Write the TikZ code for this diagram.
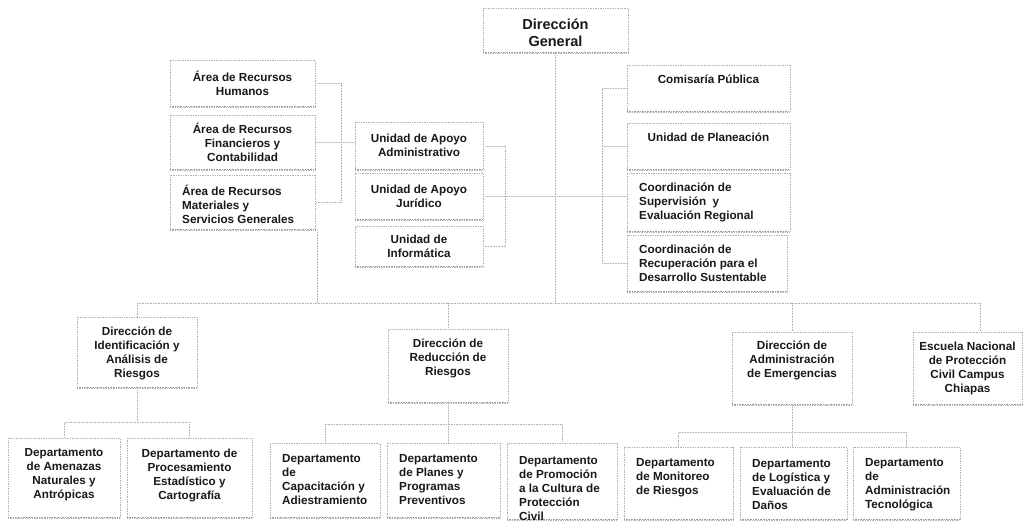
\documentclass[tikz,border=0pt]{standalone}
\usepackage{fontspec}
\setmainfont{Liberation Sans}
\tikzset{
  bx/.style={draw=gray!60, densely dotted, line width=0.7pt, fill=white, inner sep=0pt, rectangle},
  shadowline/.style={draw=gray!80, densely dotted, line width=1.6pt},
  txt/.style={inner sep=0pt, font=\bfseries\fontsize{11.7}{14}\selectfont, text=black!90},
  conn/.style={draw=gray!60, densely dotted, line width=0.6pt}
}
% #1 vertical text offset (down), #2 name, #3 x1, #4 y1, #5 x2, #6 y2, #7 c or l, #8 text
\newcommand\orgbox[8][0]{%
  \pgfmathsetmacro\obw{#5-#3}%
  \pgfmathsetmacro\obh{#6-#4}%
  \node[bx, minimum width=\obw pt, minimum height=\obh pt] (#2) at ({(#3+#5)/2},{(#4+#6)/2}) {};
  \draw[shadowline] ([yshift=0.8pt]#2.south west) -- ([yshift=0.8pt]#2.south east);
  \if#7l
    \node[txt, align=left, anchor=west] (#2-t) at ({#3+12},{(#4+#6)/2+#1}) {#8};
  \else
    \node[txt, align=center] (#2-t) at ({(#3+#5)/2},{(#4+#6)/2+#1}) {#8};
  \fi
}
\begin{document}
\begin{tikzpicture}[x=1pt,y=-1pt]
\useasboundingbox[fill=white] (0,0) rectangle (1029,522);

% top
\node[bx, minimum width=145pt, minimum height=45pt] (dg) at (555.5,30.5) {};
\draw[shadowline] ([yshift=0.8pt]dg.south west) -- ([yshift=0.8pt]dg.south east);
\node[txt, font=\bfseries\fontsize{14.5}{16.5}\selectfont, align=center] (dg-t) at (555.5,33) {Dirección\\General};

% left column
\orgbox{a1}{170}{60}{315}{107}{c}{Área de Recursos\\Humanos}
\orgbox{a2}{170}{115}{315}{170}{c}{Área de Recursos\\Financieros y\\Contabilidad}
\orgbox[2]{a3}{170}{175}{315}{230}{l}{Área de Recursos\\Materiales y\\Servicios Generales}

% unidades
\orgbox[-1]{u1}{355}{122}{483}{170}{c}{Unidad de Apoyo\\Administrativo}
\orgbox{u2}{355}{173}{483}{220}{c}{Unidad de Apoyo\\Jurídico}
\orgbox{u3}{355}{226}{483}{267}{c}{Unidad de\\Informática}

% right column
\orgbox[-9]{c1}{627}{65}{790}{112}{c}{Comisaría Pública}
\orgbox[-9]{c2}{627}{123}{790}{170}{c}{Unidad de Planeación}
\orgbox{c3}{627}{173}{790}{232}{l}{Coordinación de\\Supervisión\ \ y\\Evaluación Regional}
\orgbox{c4}{627}{235}{787}{292}{l}{Coordinación de\\Recuperación para el\\Desarrollo Sustentable}

% direcciones
\orgbox[1]{d1}{77}{317}{197}{388}{c}{Dirección de\\Identificación y\\Análisis de\\Riesgos}
\orgbox[-8]{d2}{388}{329}{508}{403}{c}{Dirección de\\Reducción de\\Riesgos}
\orgbox[-8]{d3}{732}{332}{852}{405}{c}{Dirección de\\Administración\\de Emergencias}
\orgbox{d4}{913}{332}{1022}{405}{c}{Escuela Nacional\\de Protección\\Civil Campus\\Chiapas}

% departamentos
\orgbox[-3]{e1}{8}{438}{120}{518}{c}{Departamento\\de Amenazas\\Naturales y\\Antrópicas}
\orgbox[-3]{e2}{127}{438}{252}{518}{c}{Departamento de\\Procesamiento\\Estadístico y\\Cartografía}
\orgbox[-1]{e3}{270}{443}{380}{518}{l}{Departamento\\de\\Capacitación y\\Adiestramiento}
\orgbox[-1]{e4}{387}{443}{500}{518}{l}{Departamento\\de Planes y\\Programas\\Preventivos}
\orgbox[7]{e5}{507}{443}{617}{520}{l}{Departamento\\de Promoción\\a la Cultura de\\Protección\\Civil}
\orgbox[-6]{e6}{624}{447}{733}{520}{l}{Departamento\\de Monitoreo\\de Riesgos}
\orgbox[1]{e7}{740}{447}{847}{520}{l}{Departamento\\de Logística y\\Evaluación de\\Daños}
\orgbox[1]{e8}{853}{447}{960}{520}{l}{Departamento\\de\\Administración\\Tecnológica}

% connectors: main trunk and bus
\coordinate (busL) at (137,303);
\coordinate (busR) at (980,303);
\draw[conn] (dg.south) -- (dg.south |- busL);
\draw[conn] (busL) -- (busR);
\draw[conn] (busL) -- (d1.north);
\draw[conn] (d2.north |- busL) -- (d2.north);
\draw[conn] (d3.north |- busL) -- (d3.north);
\draw[conn] (busR) -- (busR |- d4.north);
\draw[conn] ([xshift=2pt]a3.south east) -- ([xshift=2pt]a3.south east |- busL);

% left bracket
\draw[conn] (a1.east) -- ++(26,0) |- (a3.east);
\draw[conn] (a2.east) -- (a2.east -| u1.west);

% middle bracket
\draw[conn] (u1.east) -- ++(22,0) |- (u3.east);
\draw[conn] (u2.east) -- (u2.east -| c3.west);

% right bracket
\draw[conn] (c1.west) -- ++(-24,0) |- (c4.west);
\draw[conn] (c2.west) -- ++(-24,0);

% sub buses
\draw[conn] (d1.south) -- ++(0,34) coordinate (s1);
\draw[conn] (e1.north) |- (s1) -| (e2.north);
\draw[conn] (d2.south) -- ++(0,21) coordinate (s2);
\draw[conn] (e3.north) |- (s2) -| (e5.north);
\draw[conn] (s2) -- (s2 |- e4.north);
\draw[conn] (d3.south) -- ++(0,27) coordinate (s3);
\draw[conn] (e6.north) |- (s3) -| (e8.north);
\draw[conn] (s3) -- (s3 |- e7.north);
\end{tikzpicture}
\end{document}
